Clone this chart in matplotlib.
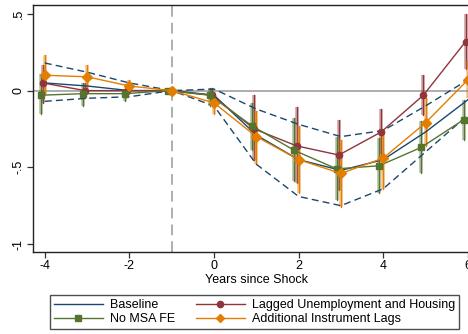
import numpy as np
import matplotlib.pyplot as plt
from matplotlib.lines import Line2D

plt.rcParams['font.family'] = ['Liberation Sans', 'DejaVu Sans']

years = np.arange(-4, 7)

# baseline estimate and its confidence band
base = [0.05, 0.03, 0.00, 0.0, -0.03, -0.29, -0.45, -0.52, -0.45, -0.27, -0.06]
base_hi = [0.18, 0.12, 0.05, 0.0, 0.01, -0.12, -0.22, -0.30, -0.26, -0.10, 0.07]
base_lo = [-0.07, -0.05, -0.04, 0.0, -0.10, -0.48, -0.69, -0.75, -0.64, -0.40, -0.16]

# lagged unemployment and housing controls
lag = [0.05, 0.00, 0.00, 0.0, -0.03, -0.25, -0.36, -0.42, -0.27, -0.03, 0.32]
lag_hi = [0.17, 0.05, 0.04, 0.0, 0.02, -0.03, -0.11, -0.19, -0.12, 0.10, 0.50]
lag_lo = [-0.08, -0.05, -0.04, 0.0, -0.08, -0.45, -0.60, -0.65, -0.41, -0.16, 0.14]

# no MSA fixed effects
nofe = [-0.03, -0.02, -0.02, 0.0, -0.03, -0.23, -0.39, -0.51, -0.49, -0.37, -0.19]
nofe_hi = [0.11, 0.05, 0.01, 0.0, 0.02, -0.08, -0.18, -0.30, -0.31, -0.20, -0.06]
nofe_lo = [-0.15, -0.10, -0.065, 0.0, -0.10, -0.39, -0.59, -0.71, -0.67, -0.54, -0.32]

# additional instrument lags
addl = [0.10, 0.09, 0.03, 0.0, -0.08, -0.30, -0.45, -0.54, -0.44, -0.21, 0.07]
addl_hi = [0.23, 0.17, 0.07, 0.0, -0.01, -0.13, -0.23, -0.32, -0.28, -0.05, 0.20]
addl_lo = [-0.02, 0.01, 0.00, 0.0, -0.15, -0.48, -0.67, -0.76, -0.64, -0.36, -0.05]

navy = '#1a476f'
maroon = '#90353b'
green = '#55752f'
orange = '#e37e00'

fig = plt.figure(figsize=(4.68, 3.34), dpi=100)
ax = fig.add_axes([33 / 468, 1 - 252 / 334, 447.5 / 468, 247 / 334])

ax.axhline(0, color='#a8a8a8', lw=1.3, zorder=1)
ax.axvline(-1, color='#999999', lw=1.1, dashes=(7, 4), zorder=1)


def series(shift, mid, lo, hi, color, marker, ms, label):
    x = years + shift
    for xi, l, h in zip(x, lo, hi):
        ax.plot([xi, xi], [l, h], color=color, lw=2.6, alpha=0.45, zorder=2,
                solid_capstyle='butt')
        ax.plot([xi, xi], [l, h], color=color, lw=0.9, zorder=2)
    ax.plot(x, mid, color=color, lw=1.0, marker=marker, ms=ms,
            mec=color, mfc=color, zorder=4, label=label)


ax.plot(years, base, color=navy, lw=1.0, zorder=3, label='Baseline')
ax.plot(years, base_hi, color=navy, lw=1.0, dashes=(5, 3), zorder=3)
ax.plot(years, base_lo, color=navy, lw=1.0, dashes=(5, 3), zorder=3)

series(-0.05, lag, lag_lo, lag_hi, maroon, 'o', 4.5, 'Lagged Unemployment and Housing')
series(-0.10, nofe, nofe_lo, nofe_hi, green, 's', 5, 'No MSA FE')
series(0.0, addl, addl_lo, addl_hi, orange, 'D', 5, 'Additional Instrument Lags')

ax.set_xlim(-4.28, 6.3)
ax.set_ylim(-1.052, 0.558)
ax.set_xticks([-4, -2, 0, 2, 4, 6])
ax.set_xticklabels(['-4', '-2', '0', '2', '4', '6'])
ax.set_yticks([-1, -0.5, 0, 0.5])
ax.set_yticklabels(['-1', '-.5', '0', '.5'], rotation=90, va='center')
ax.tick_params(labelsize=9, length=4, width=0.9, color='#333333', pad=2)
for s in ax.spines.values():
    s.set_linewidth(1.0)
    s.set_color('#222222')
ax.set_xlabel('Years since Shock', fontsize=9, labelpad=1)

handles = [
    Line2D([], [], color=navy, lw=1.0),
    Line2D([], [], color=green, lw=1.0, marker='s', ms=4.5),
    Line2D([], [], color=maroon, lw=1.0, marker='o', ms=4.5),
    Line2D([], [], color=orange, lw=1.0, marker='D', ms=4.5),
]
labels = ['Baseline', 'No MSA FE', 'Lagged Unemployment and Housing',
          'Additional Instrument Lags']
fig.legend(handles, labels, ncol=2, loc='center', bbox_to_anchor=(254.5 / 468, 1 - 312 / 334),
           fontsize=9, frameon=True, fancybox=False, edgecolor='#222222',
           handlelength=3.9, columnspacing=1.7, handletextpad=0.55,
           labelspacing=0.15, borderpad=0.35)

fig.savefig('out.png', dpi=100, facecolor='white')
